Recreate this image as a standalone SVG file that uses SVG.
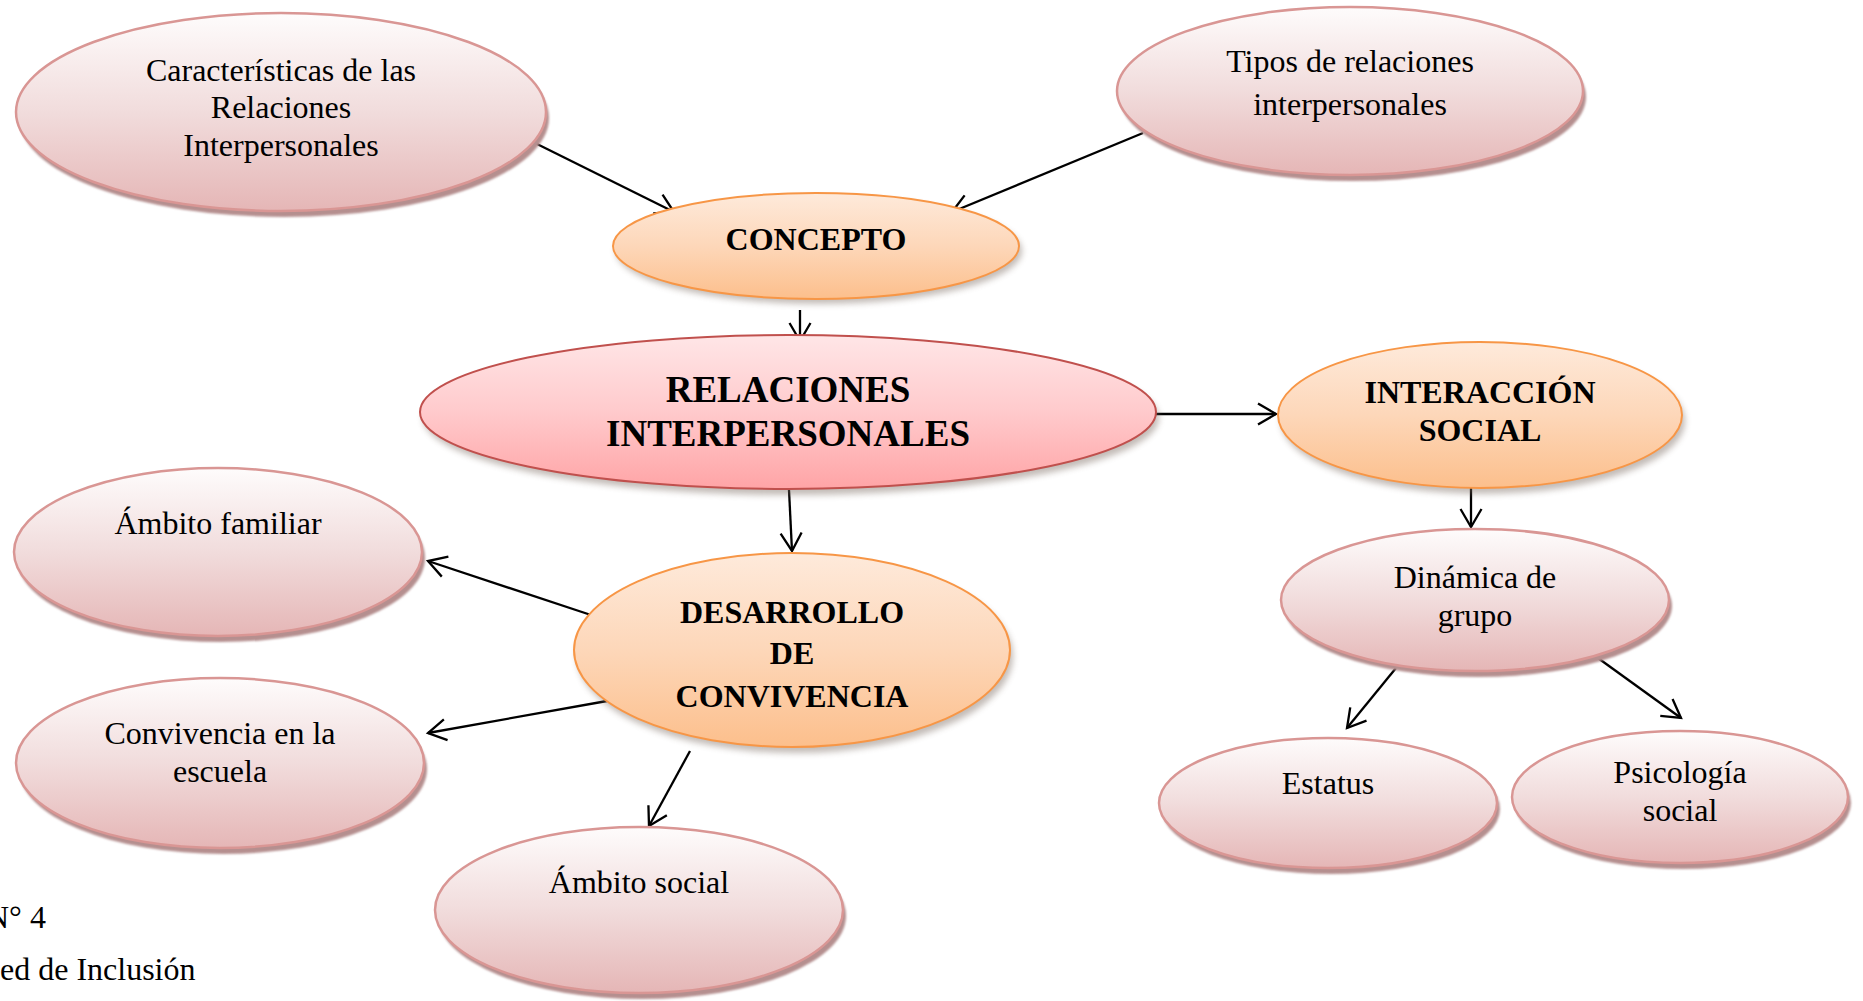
<svg xmlns="http://www.w3.org/2000/svg" width="1863" height="1001" viewBox="0 0 1863 1001">
<style>
.pk{fill:url(#gPink);stroke:#d99694;stroke-width:2.5}
.pks{fill:#b58f8f;filter:url(#fs)}
.or{fill:url(#gOrange);stroke:#f79646;stroke-width:2}
.ors{fill:#7a6a60;opacity:0.45;filter:url(#fb)}
.mn{fill:url(#gMain);stroke:#c0504d;stroke-width:2}
.t{font-family:"Liberation Serif","Times New Roman",serif;font-size:32px;fill:#000;text-anchor:middle}
.b{font-family:"Liberation Serif","Times New Roman",serif;font-size:32px;font-weight:bold;fill:#000;text-anchor:middle}
.bm{font-family:"Liberation Serif","Times New Roman",serif;font-size:37px;font-weight:bold;fill:#000;text-anchor:middle}
.f{font-family:"Liberation Serif","Times New Roman",serif;font-size:32px;fill:#000}
.c line{stroke:#000;stroke-width:2.3;marker-end:url(#ah)}
</style>
<defs>
<linearGradient id="gPink" x1="0" y1="0" x2="0" y2="1">
<stop offset="0" stop-color="#fefcfc"/>
<stop offset="0.5" stop-color="#f1dcdc"/>
<stop offset="1" stop-color="#e5b6b6"/>
</linearGradient>
<linearGradient id="gOrange" x1="0" y1="0" x2="0" y2="1">
<stop offset="0" stop-color="#feeadb"/>
<stop offset="0.5" stop-color="#fdd7b9"/>
<stop offset="1" stop-color="#fcbf8c"/>
</linearGradient>
<linearGradient id="gMain" x1="0" y1="0" x2="0" y2="1">
<stop offset="0" stop-color="#ffe6e7"/>
<stop offset="0.5" stop-color="#ffcacc"/>
<stop offset="1" stop-color="#ffa4a6"/>
</linearGradient>
<filter id="fs" x="-10%" y="-10%" width="120%" height="130%"><feGaussianBlur stdDeviation="1"/></filter>
<filter id="fb" x="-10%" y="-10%" width="120%" height="130%"><feGaussianBlur stdDeviation="3"/></filter>
<marker id="ah" markerUnits="userSpaceOnUse" markerWidth="26" markerHeight="26" refX="20" refY="12" orient="auto">
<path d="M2,1.5 L20,12 L2,22.5" fill="none" stroke="#000" stroke-width="2.3"/>
</marker>
</defs>

<g id="connectors" class="c">
<line x1="533" y1="142" x2="674" y2="212"/>
<line x1="1143" y1="133" x2="952" y2="212"/>
<line x1="800" y1="310" x2="800" y2="341"/>
<line x1="1156" y1="414" x2="1276" y2="414"/>
<line x1="789" y1="490" x2="792" y2="551"/>
<line x1="1471" y1="487" x2="1471" y2="527"/>
<line x1="591" y1="615" x2="428" y2="561"/>
<line x1="607" y1="701" x2="428" y2="733"/>
<line x1="690" y1="751" x2="649" y2="826"/>
<line x1="1396" y1="668" x2="1347" y2="728"/>
<line x1="1591" y1="653" x2="1681" y2="718"/>
</g>

<g id="n-caracteristicas">
<ellipse class="pks" cx="284" cy="118" rx="265" ry="99"/>
<ellipse class="pk" cx="281" cy="112" rx="265" ry="99"/>
<text class="t" x="281" y="81">Características de las</text>
<text class="t" x="281" y="118">Relaciones</text>
<text class="t" x="281" y="156">Interpersonales</text>
</g>

<g id="n-tipos">
<ellipse class="pks" cx="1353" cy="97" rx="233" ry="84"/>
<ellipse class="pk" cx="1350" cy="91" rx="233" ry="84"/>
<text class="t" x="1350" y="72">Tipos de relaciones</text>
<text class="t" x="1350" y="115">interpersonales</text>
</g>

<g id="n-concepto">
<ellipse class="ors" cx="819" cy="251" rx="203" ry="53"/>
<ellipse class="or" cx="816" cy="246" rx="203" ry="53"/>
<text class="b" x="816" y="250">CONCEPTO</text>
</g>

<g id="n-relaciones">
<ellipse class="ors" cx="791" cy="418" rx="368" ry="77"/>
<ellipse class="mn" cx="788" cy="412" rx="368" ry="77"/>
<text class="bm" x="788" y="402">RELACIONES</text>
<text class="bm" x="788" y="446">INTERPERSONALES</text>
</g>

<g id="n-interaccion">
<ellipse class="ors" cx="1483" cy="421" rx="202" ry="73"/>
<ellipse class="or" cx="1480" cy="415" rx="202" ry="73"/>
<text class="b" x="1480" y="403">INTERACCIÓN</text>
<text class="b" x="1480" y="441">SOCIAL</text>
</g>

<g id="n-desarrollo">
<ellipse class="ors" cx="795" cy="656" rx="218" ry="97"/>
<ellipse class="or" cx="792" cy="650" rx="218" ry="97"/>
<text class="b" x="792" y="623">DESARROLLO</text>
<text class="b" x="792" y="664">DE</text>
<text class="b" x="792" y="707">CONVIVENCIA</text>
</g>

<g id="n-familiar">
<ellipse class="pks" cx="221" cy="558" rx="204" ry="84"/>
<ellipse class="pk" cx="218" cy="552" rx="204" ry="84"/>
<text class="t" x="218" y="534">Ámbito familiar</text>
</g>

<g id="n-escuela">
<ellipse class="pks" cx="223" cy="769" rx="204" ry="85"/>
<ellipse class="pk" cx="220" cy="763" rx="204" ry="85"/>
<text class="t" x="220" y="744">Convivencia en la</text>
<text class="t" x="220" y="782">escuela</text>
</g>

<g id="n-social">
<ellipse class="pks" cx="642" cy="916" rx="204" ry="83"/>
<ellipse class="pk" cx="639" cy="910" rx="204" ry="83"/>
<text class="t" x="639" y="893">Ámbito social</text>
</g>

<g id="n-dinamica">
<ellipse class="pks" cx="1478" cy="606" rx="194" ry="71"/>
<ellipse class="pk" cx="1475" cy="600" rx="194" ry="71"/>
<text class="t" x="1475" y="588">Dinámica de</text>
<text class="t" x="1475" y="626">grupo</text>
</g>

<g id="n-estatus">
<ellipse class="pks" cx="1331" cy="809" rx="169" ry="65"/>
<ellipse class="pk" cx="1328" cy="803" rx="169" ry="65"/>
<text class="t" x="1328" y="794">Estatus</text>
</g>

<g id="n-psicologia">
<ellipse class="pks" cx="1683" cy="803" rx="168" ry="66"/>
<ellipse class="pk" cx="1680" cy="797" rx="168" ry="66"/>
<text class="t" x="1680" y="783">Psicología</text>
<text class="t" x="1680" y="821">social</text>
</g>

<g id="caption">
<text class="f" x="-14" y="928">N° 4</text>
<text class="f" x="0" y="980">ed de Inclusión</text>
</g>
</svg>
